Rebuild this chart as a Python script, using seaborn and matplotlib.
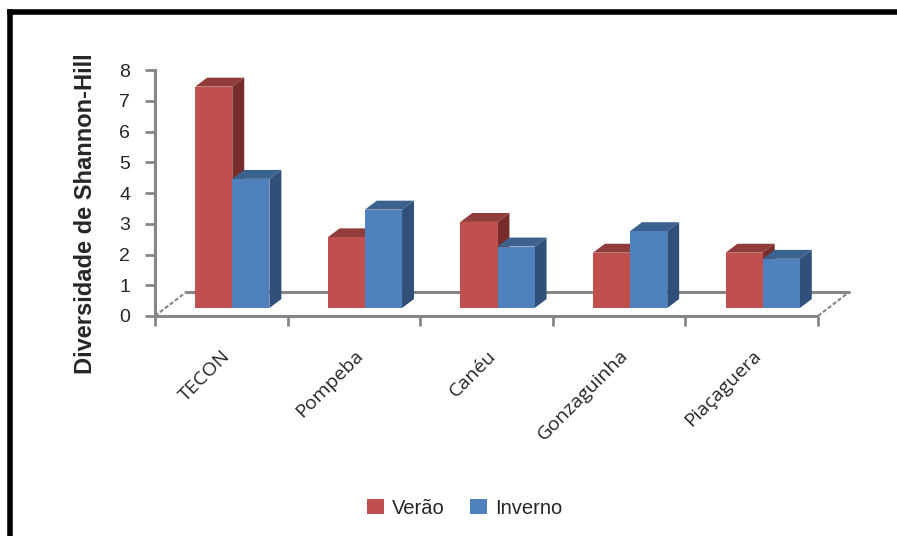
import matplotlib
matplotlib.use("Agg")
import matplotlib.pyplot as plt
import seaborn as sns
import pandas as pd
from matplotlib.patches import Polygon, Patch
from matplotlib.lines import Line2D

# ---- data ----
sites = ["TECON", "Pompeba", "Canéu", "Gonzaguinha", "Piaçaguera"]
verao = [7.2, 2.3, 2.8, 1.8, 1.8]
inverno = [4.2, 3.2, 2.0, 2.5, 1.6]
seasons = ["Verão", "Inverno"]
yticks = [0, 1, 2, 3, 4, 5, 6, 7, 8]
ylabel = "Diversidade de Shannon-Hill"

# ---- styles ----
front = {"Verão": "#C0504D", "Inverno": "#4F81BD"}
topc = {"Verão": "#8F3C3A", "Inverno": "#3B628F"}
sidec = {"Verão": "#772D2B", "Inverno": "#30507A"}
axis_grey = "#868686"

df = pd.DataFrame({
    "Local": sites * 2,
    "Estação": [seasons[0]] * len(sites) + [seasons[1]] * len(sites),
    "Valor": verao + inverno,
})

sns.set_theme(style="white")
plt.rcParams["font.family"] = ["Liberation Sans", "DejaVu Sans"]

W, H = 897, 536
fig = plt.figure(figsize=(W / 100, H / 100), dpi=100)
fig.patch.set_facecolor("white")
ax = fig.add_axes([155 / W, 1 - 316 / H, 663 / W, 246 / H])
ax.set_facecolor("none")

sns.barplot(data=df, x="Local", y="Valor", hue="Estação", order=sites,
            hue_order=seasons, palette=front, width=0.56, saturation=1,
            ax=ax, legend=False, linewidth=0, edgecolor="none", errorbar=None)

# pseudo-3D geometry (style constants)
shift = 0.083      # horizontal shift of bars in depth
lift = 0.26        # bar base above front floor edge
dx, dy = 0.09, 0.29  # bar depth
fdx, fdy = 0.235, 0.78  # floor depth

patches = list(ax.patches)
n = len(sites)
for k, p in enumerate(patches):
    s = seasons[k // n]
    zbase = 2 if s == seasons[0] else 3
    x = p.get_x() + shift
    w = p.get_width()
    h = p.get_height()
    p.set_x(x)
    p.set_y(lift)
    p.set_zorder(zbase + 0.5)
    y = lift
    top = Polygon([(x, y + h), (x + w, y + h), (x + w + dx, y + h + dy), (x + dx, y + h + dy)],
                  closed=True, facecolor=topc[s], edgecolor="none", zorder=zbase)
    side = Polygon([(x + w, y), (x + w + dx, y + dy), (x + w + dx, y + h + dy), (x + w, y + h)],
                   closed=True, facecolor=sidec[s], edgecolor="none", zorder=zbase)
    ax.add_patch(top)
    ax.add_patch(side)

# floor
x0, x1 = -0.5, n - 0.5
ax.plot([x0, x1], [0, 0], color=axis_grey, lw=2.2, clip_on=False, zorder=1.5, solid_capstyle="butt")
ax.plot([x0 + fdx, x1 + fdx], [fdy, fdy], color=axis_grey, lw=2.2, clip_on=False, zorder=1)
ax.plot([x0, x0 + fdx], [0, fdy], color=axis_grey, lw=1.5, ls=(0, (2, 1)), clip_on=False, zorder=1)
ax.plot([x1, x1 + fdx], [0, fdy], color=axis_grey, lw=1.5, ls=(0, (2, 1)), clip_on=False, zorder=1)

ax.set_xlim(x0, x1)
ax.set_ylim(0, 8)
ax.set_yticks(yticks)
ax.set_yticklabels([str(v) for v in yticks], fontsize=14)
ax.set_xticks(range(n))
ax.set_xticklabels(sites, rotation=45, ha="right", rotation_mode="anchor",
                   fontsize=14, family=["Open Sans", "DejaVu Sans"])
ax.set_xticks([i - 0.5 for i in range(n + 1)], minor=True)
ax.tick_params(axis="x", which="major", length=0, pad=22, bottom=True)
ax.tick_params(axis="x", which="minor", length=7, width=2, color=axis_grey,
               direction="out", bottom=True)
ax.tick_params(axis="y", length=7, width=2, color=axis_grey, direction="out",
               pad=11, left=True)
ax.set_xlabel("")
ax.set_ylabel(ylabel, fontsize=17, fontweight="bold")
ax.yaxis.set_label_coords(-0.088, 0.415)

for sname in ["top", "right", "bottom"]:
    ax.spines[sname].set_visible(False)
ax.spines["left"].set_color(axis_grey)
ax.spines["left"].set_linewidth(2.2)

# legend
handles = [Patch(facecolor=front[s], edgecolor="none") for s in seasons]
fig.legend(handles, seasons, loc="center", bbox_to_anchor=(0.518, 0.052), ncol=2,
           frameon=False, handlelength=0.8, handleheight=0.8, handletextpad=0.4,
           columnspacing=1.3, fontsize=14.5)

# chart border
fig.add_artist(Line2D([10 / W, 10 / W], [0, 1 - 12 / H], transform=fig.transFigure,
                      color="black", lw=4, solid_capstyle="projecting"))
fig.add_artist(Line2D([10 / W, 1], [1 - 12 / H, 1 - 12 / H], transform=fig.transFigure,
                      color="black", lw=4, solid_capstyle="projecting"))

fig.savefig("out.png", dpi=100)
